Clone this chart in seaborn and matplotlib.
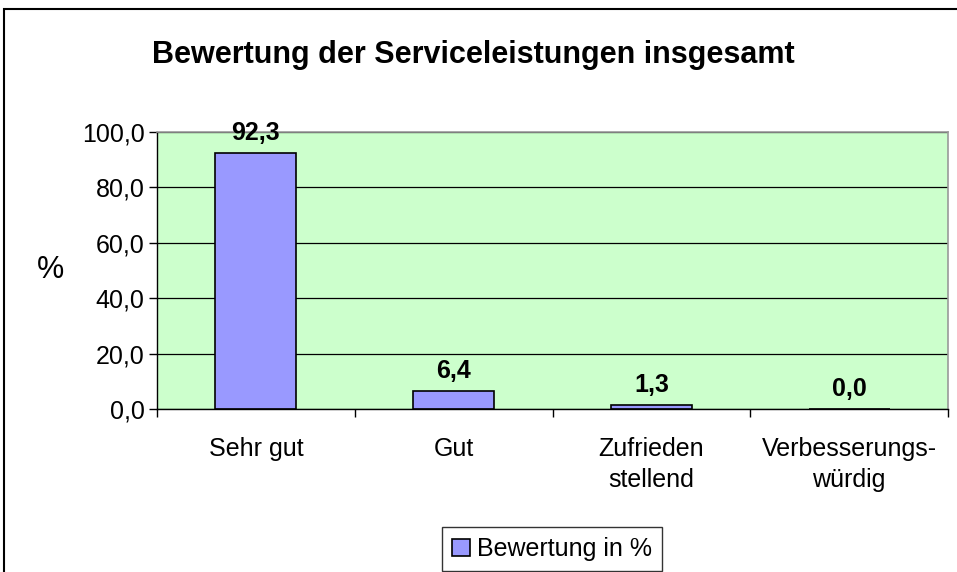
import numpy as np
import pandas as pd
import matplotlib.pyplot as plt
import seaborn as sns
from matplotlib.patches import Rectangle
from matplotlib.ticker import FixedLocator

# Daten
kategorien = ['Sehr gut', 'Gut', 'Zufrieden\nstellend', 'Verbesserungs-\nwürdig']
werte = [92.3, 6.4, 1.3, 0.0]
y_ticks = [0, 20, 40, 60, 80, 100]

df = pd.DataFrame({'Kategorie': kategorien, 'Wert': werte})

sns.set_theme(style='white')
plt.rcParams['font.family'] = ['Liberation Sans', 'DejaVu Sans']
plt.rcParams['text.color'] = 'black'
plt.rcParams['axes.labelcolor'] = 'black'
plt.rcParams['xtick.color'] = 'black'
plt.rcParams['ytick.color'] = 'black'

fig = plt.figure(figsize=(9.57, 5.72), dpi=100)
ax = fig.add_axes([157 / 957, 1 - 409 / 572, (948 - 157) / 957, (409 - 132) / 572])
ax.set_facecolor('#CCFFCC')

sns.barplot(data=df, x='Kategorie', y='Wert', color='#9999FF', edgecolor='black',
            linewidth=1.2, width=0.41, saturation=1, label='Bewertung in %', ax=ax)

ax.set_ylim(0, 100)
ax.set_xlim(-0.5, 3.5)
ax.set_yticks(y_ticks)
ax.set_yticklabels([f'{v:.1f}'.replace('.', ',') for v in y_ticks], fontsize=18)
ax.yaxis.grid(True, color='black', linewidth=0.9)
ax.set_axisbelow(True)
ax.tick_params(axis='y', left=True, length=6, width=1, color='black', pad=3)
ax.tick_params(axis='x', bottom=False, labelsize=18, pad=14)
for lbl in ax.get_xticklabels():
    lbl.set_linespacing(1.4)
ax.xaxis.set_minor_locator(FixedLocator([-0.5, 0.5, 1.5, 2.5, 3.5]))
ax.tick_params(axis='x', which='minor', bottom=True, length=6, width=1, color='black')

for side in ['top', 'right']:
    ax.spines[side].set_color('#999999')
    ax.spines[side].set_linewidth(1.2)
for side in ['left', 'bottom']:
    ax.spines[side].set_color('black')
    ax.spines[side].set_linewidth(1)

ax.set_xlabel('')
ax.set_ylabel('%', fontsize=22, rotation=0, labelpad=0, va='center', ha='center')
ax.yaxis.set_label_coords(-0.135, 0.5)

for i, v in enumerate(werte):
    ax.annotate(f'{v:.1f}'.replace('.', ','), (i, v), xytext=(0, 6),
                textcoords='offset points', ha='center', va='bottom',
                fontsize=18, fontweight='bold')

fig.text(473 / 957, 1 - 55 / 572, 'Bewertung der Serviceleistungen insgesamt',
         ha='center', va='center', fontsize=22, fontweight='bold')

# Rahmen um das Diagramm
fig.patches.append(Rectangle((4 / 957, -0.1), 1.2, (572 - 9) / 572 + 0.1,
                             transform=fig.transFigure, fill=False,
                             edgecolor='black', linewidth=1.5, clip_on=False))

leg = ax.legend(loc='upper center', bbox_to_anchor=(552 / 957, 1 - 527 / 572),
                bbox_transform=fig.transFigure, fontsize=18, frameon=True,
                fancybox=False, edgecolor='black', handlelength=0.7,
                handleheight=0.7, handletextpad=0.3, borderpad=0.4,
                borderaxespad=0)
leg.get_frame().set_linewidth(1)

fig.savefig('out.png', dpi=100)
